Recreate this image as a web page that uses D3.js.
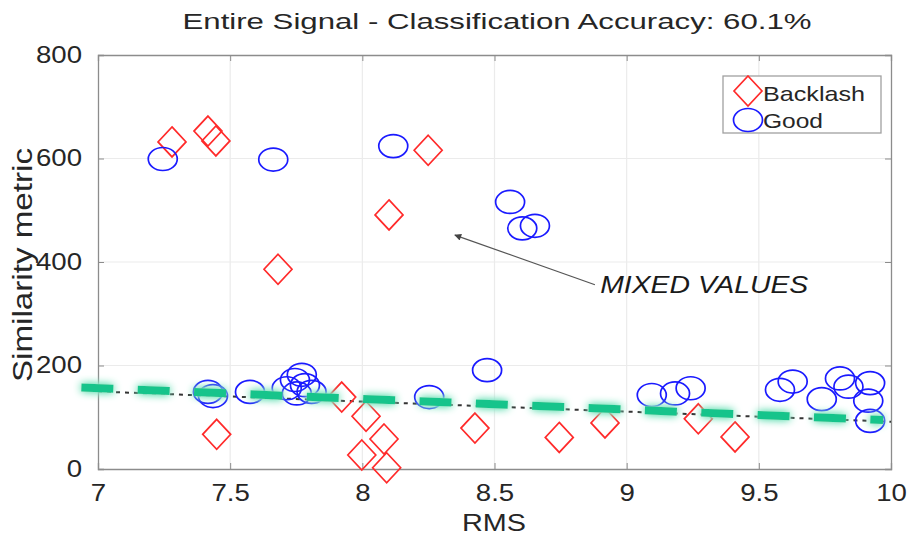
<!DOCTYPE html>
<html>
<head>
<meta charset="utf-8">
<script src="https://cdn.jsdelivr.net/npm/d3@7"></script>
<style>
  html, body { margin: 0; padding: 0; background: #fff; }
  svg { display: block; font-family: "Liberation Sans", Arial, Helvetica, sans-serif; }
</style>
</head>
<body>
<svg id="chart" width="908" height="537"></svg>
<script>
// Scatter of RMS vs similarity metric for the two gearbox classes.
const backlashRMS = [7.28, 7.416, 7.446, 7.681, 8.101, 8.249,
                     7.449, 7.922, 8.014, 7.998, 8.082, 8.092, 8.426, 8.745, 8.918, 9.271, 9.41];
const backlashSim = [632, 653, 634, 386, 491, 616,
                     67, 139, 102, 27, 58, 2.5, 79, 61, 89, 97, 62];

const goodRMS = [7.245, 7.663, 8.117, 8.559, 8.605, 8.653,
                 7.416, 7.435, 7.575, 7.714, 7.745, 7.771, 7.783, 7.808, 7.752,
                 8.253, 8.472,
                 9.095, 9.183, 9.242, 9.58, 9.628, 9.738, 9.807, 9.839, 9.921, 9.914, 9.921];
const goodSim = [599, 598, 624, 516, 465, 470,
                 149, 141, 149, 156, 172, 182, 162, 149, 146,
                 139, 191,
                 143, 146, 156, 153, 169, 135, 175, 159, 166, 132, 93];

// Linear decision boundary and its highlighted overlay
const fitRMS = [7, 10];
const fitSim = [149.8, 91.4];
const trendRMS = [6.937, 9.97];
const trendSim = [157.5, 94.7];

const xTicks = [7, 7.5, 8, 8.5, 9, 9.5, 10];
const yTicks = [0, 200, 400, 600, 800];

const titleText = "Entire Signal - Classification Accuracy: 60.1%";
const xLabel = "RMS";
const yLabel = "Similarity metric";
const seriesNames = ["Backlash", "Good"];
const noteText = "MIXED VALUES";
const notePos = [8.9, 340];
const arrowFrom = [8.88, 356];
const arrowTo = [8.35, 452];

const svg = d3.select("#chart");
const plotL = 98, plotR = 891, plotT = 55, plotB = 469;

const x = d3.scaleLinear().domain([7, 10]).range([plotL, plotR]);
const y = d3.scaleLinear().domain([0, 800]).range([plotB, plotT]);

const textColor = "#262626";
const axisColor = "#8c8c8c";

// Stretch text horizontally to a target width
function fitWidth(sel, width) {
  sel.attr("textLength", width).attr("lengthAdjust", "spacingAndGlyphs");
}
function widen(sel, factor) {
  sel.each(function () {
    const w = this.getComputedTextLength();
    d3.select(this).attr("textLength", w * factor).attr("lengthAdjust", "spacingAndGlyphs");
  });
}

const defs = svg.append("defs");
const glow = defs.append("filter").attr("id", "glow")
  .attr("x", "-20%").attr("y", "-300%").attr("width", "140%").attr("height", "700%");
glow.append("feGaussianBlur").attr("in", "SourceAlpha").attr("stdDeviation", 4.5).attr("result", "blur");
glow.append("feComponentTransfer").attr("in", "blur").attr("result", "blurBoost")
  .append("feFuncA").attr("type", "linear").attr("slope", 1.8);
glow.append("feFlood").attr("flood-color", "#86e6c4").attr("flood-opacity", 1).attr("result", "col");
glow.append("feComposite").attr("in", "col").attr("in2", "blurBoost").attr("operator", "in").attr("result", "halo");
const merge = glow.append("feMerge");
merge.append("feMergeNode").attr("in", "halo");
merge.append("feMergeNode").attr("in", "SourceGraphic");

defs.append("marker").attr("id", "arrowhead")
  .attr("viewBox", "0 0 10 10").attr("refX", 9).attr("refY", 5)
  .attr("markerWidth", 9).attr("markerHeight", 7).attr("markerUnits", "userSpaceOnUse")
  .attr("orient", "auto")
  .append("path").attr("d", "M0,0 L10,5 L0,10 Z").attr("fill", "#444");

// Plot background and grid
svg.append("rect").attr("x", plotL).attr("y", plotT)
  .attr("width", plotR - plotL).attr("height", plotB - plotT).attr("fill", "#fff");

const grid = svg.append("g");
grid.selectAll("line.gx").data(xTicks.slice(1, -1)).join("line")
  .attr("x1", d => x(d)).attr("x2", d => x(d)).attr("y1", plotT).attr("y2", plotB)
  .attr("stroke", "#ebebeb").attr("stroke-width", 1.2);
grid.selectAll("line.gy").data(yTicks.slice(1, -1)).join("line")
  .attr("y1", d => y(d)).attr("y2", d => y(d)).attr("x1", plotL).attr("x2", plotR)
  .attr("stroke", "#ebebeb").attr("stroke-width", 1.2);

// Axes with inward ticks on all four sides
const tickLen = 6;
const xAxis = svg.append("g").attr("transform", `translate(0,${plotB})`)
  .call(d3.axisBottom(x).tickValues(xTicks).tickSize(-tickLen).tickPadding(16)
        .tickFormat(d3.format("~g")));
const xAxisTop = svg.append("g").attr("transform", `translate(0,${plotT})`)
  .call(d3.axisTop(x).tickValues(xTicks).tickSize(-tickLen).tickFormat(""));
const yAxis = svg.append("g").attr("transform", `translate(${plotL},0)`)
  .call(d3.axisLeft(y).tickValues(yTicks).tickSize(-tickLen).tickPadding(16));
const yAxisRight = svg.append("g").attr("transform", `translate(${plotR},0)`)
  .call(d3.axisRight(y).tickValues(yTicks).tickSize(-tickLen).tickFormat(""));

[xAxis, xAxisTop, yAxis, yAxisRight].forEach(a => {
  a.select(".domain").attr("stroke", axisColor).attr("stroke-width", 1.3);
  a.selectAll(".tick line").attr("stroke", axisColor).attr("stroke-width", 1);
  a.selectAll("text").attr("fill", textColor).attr("font-size", 23)
    .attr("font-family", "Liberation Sans, Arial, sans-serif");
});
xAxis.selectAll(".tick text").attr("dy", "0.71em");
widen(xAxis.selectAll(".tick text"), 1.2);
widen(yAxis.selectAll(".tick text"), 1.2);

// Decision boundary (dark dashed)
const line = d3.line().x(d => x(d[0])).y(d => y(d[1]));
svg.append("path").datum(d3.zip(fitRMS, fitSim)).attr("d", line)
  .attr("fill", "none").attr("stroke", "#333").attr("stroke-width", 2)
  .attr("stroke-dasharray", "4,5");

// Markers
const diamond = (cx, cy) => `M${cx},${cy - 15} L${cx + 14},${cy} L${cx},${cy + 15} L${cx - 14},${cy} Z`;
svg.append("g").selectAll("path").data(d3.zip(backlashRMS, backlashSim)).join("path")
  .attr("d", d => diamond(x(d[0]), y(d[1])))
  .attr("fill", "none").attr("stroke", "#ff2a2a").attr("stroke-width", 1.7);
svg.append("g").selectAll("ellipse").data(d3.zip(goodRMS, goodSim)).join("ellipse")
  .attr("cx", d => x(d[0])).attr("cy", d => y(d[1]))
  .attr("rx", 14.5).attr("ry", 11.5)
  .attr("fill", "none").attr("stroke", "#1a1aff").attr("stroke-width", 1.7);

// Highlighted boundary overlay (green, glowing), drawn above the markers
svg.append("path").datum(d3.zip(trendRMS, trendSim)).attr("d", line)
  .attr("fill", "none").attr("stroke", "#17c48b").attr("stroke-width", 8)
  .attr("stroke-dasharray", "32,24.4").attr("filter", "url(#glow)");

// Annotation arrow and label
svg.append("line")
  .attr("x1", x(arrowFrom[0])).attr("y1", y(arrowFrom[1]))
  .attr("x2", x(arrowTo[0])).attr("y2", y(arrowTo[1]))
  .attr("stroke", "#555").attr("stroke-width", 1.2).attr("marker-end", "url(#arrowhead)");
svg.append("text").attr("x", x(notePos[0])).attr("y", y(notePos[1]))
  .attr("font-size", 24).attr("font-style", "italic").attr("fill", "#1a1a1a")
  .text(noteText).call(fitWidth, 208);

// Legend
const lg = svg.append("g");
lg.append("rect").attr("x", 723).attr("y", 76).attr("width", 158).attr("height", 57)
  .attr("fill", "#fff").attr("stroke", "#a0a0a0").attr("stroke-width", 1.3);
lg.append("path").attr("d", diamond(748, 91))
  .attr("fill", "none").attr("stroke", "#ff2a2a").attr("stroke-width", 1.7);
lg.append("ellipse").attr("cx", 748).attr("cy", 120).attr("rx", 14.5).attr("ry", 11.5)
  .attr("fill", "none").attr("stroke", "#1a1aff").attr("stroke-width", 1.7);
lg.append("text").attr("x", 763).attr("y", 101).attr("font-size", 21).attr("fill", textColor)
  .text(seriesNames[0]).call(fitWidth, 102);
lg.append("text").attr("x", 763).attr("y", 128).attr("font-size", 21).attr("fill", textColor)
  .text(seriesNames[1]).call(fitWidth, 60);

// Titles
svg.append("text").attr("x", 497).attr("y", 29).attr("text-anchor", "middle")
  .attr("font-size", 22).attr("fill", textColor).text(titleText).call(fitWidth, 629);
svg.append("text").attr("x", 494).attr("y", 531).attr("text-anchor", "middle")
  .attr("font-size", 23).attr("fill", textColor).text(xLabel).call(fitWidth, 64);
svg.append("text").attr("transform", "translate(32,265) rotate(-90)").attr("text-anchor", "middle")
  .attr("font-size", 27).attr("fill", textColor).text(yLabel).call(fitWidth, 234);
</script>
</body>
</html>
